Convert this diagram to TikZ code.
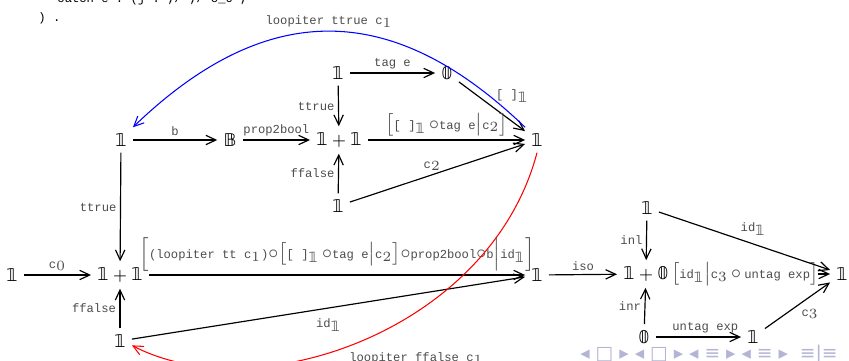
\documentclass[tikz,border=0pt]{standalone}
\usepackage{amsmath,amssymb}
\usepackage{fontspec}
\setmonofont{Liberation Mono}
\newfontfamily\navfont{DejaVu Sans}
\newfontfamily\bbfont{DejaVu Sans}
\usetikzlibrary{arrows.meta}

\newcommand{\one}{\text{\bbfont 𝟙}}
\newcommand{\zero}{\text{\bbfont 𝟘}}
\newcommand{\bool}{\text{\bbfont 𝔹}}
\newcommand{\code}[1]{{\fontsize{5.2}{6}\selectfont\ttfamily #1}}
\definecolor{navcol}{RGB}{180,180,212}

\begin{document}
\begin{tikzpicture}[
  x=0.015cm, y=-0.015cm,
  >={Straight Barb[length=1.5mm,width=1.4mm]},
  %% Styles
  obj/.style   = {font=\fontsize{7.5}{9}\selectfont, inner sep=2.5pt},
  lbl/.style   = {font=\fontsize{8}{9}\selectfont, text=black!70, inner sep=1.5pt},
  arr/.style   = {->, line width=0.5pt},
  loopT/.style = {->, line width=0.45pt, blue},
  loopF/.style = {->, line width=0.45pt, red},
]
\useasboundingbox (0,0) rectangle (849,361);
\clip (0,0) rectangle (849,361);

%% ── Slide text ─────────────────────────────────────────────────
\node[anchor=west, inner sep=0pt] (codeA) at (57,-1) {\code{catch e : (j . ;/ ;/ c\_0 ,}};
\node[anchor=west, inner sep=0pt] (codeB) at (38,18) {\code{) .}};

%% ── Row 0: top ─────────────────────────────────────────────────
\node[obj] (t1) at (338,73) {$\one$};
\node[obj] (t0) at (447,73) {$\zero$};

%% ── Row 1: middle ──────────────────────────────────────────────
\node[obj] (a1) at (121,140) {$\one$};
\node[obj] (aB) at (230,140) {$\bool$};
\node[obj] (a2) at (339,140) {$\one+\one$};
\node[obj] (aE) at (537,140) {$\one$};
\node[obj] (f1) at (338,206) {$\one$};

%% ── Row 2: bottom ──────────────────────────────────────────────
\node[obj] (l1) at (12,275) {$\one$};
\node[obj] (b2) at (120,275) {$\one+\one$};
\node[obj] (bE) at (537,275) {$\one$};
\node[obj] (b1) at (120,341) {$\one$};

%% ── Right part ─────────────────────────────────────────────────
\node[obj] (r1) at (647,208) {$\one$};
\node[obj] (r2) at (646,274) {$\one+\zero$};
\node[obj] (rE) at (842,274) {$\one$};
\node[obj] (r0) at (644,337) {$\zero$};
\node[obj] (r3) at (753,337) {$\one$};

%% ── Arrows: top square ─────────────────────────────────────────
\draw[arr] (t1) -- node[lbl, above] {\code{tag e}} (t0);
\draw[arr] (t0) -- node[lbl, above right] {\code{[ ]}$_{\one}$} (aE);
\draw[arr] (t1) -- node[lbl, left] {\code{ttrue}} (a2);
\draw[arr] (f1) -- node[lbl, left] {\code{ffalse}} (a2);
\draw[arr] (a1) -- node[lbl, above] {\code{b}} (aB);
\draw[arr] (aB) -- node[lbl, above] {\code{prop2bool}} (a2);
\draw[arr] (a2) -- node[lbl, above]
  {$\big[$\code{[ ]}$_{\one}\,\circ$\code{tag e}$\big|$\code{c}$_2\big]$} (aE);
\draw[arr] (f1) -- node[lbl, above, pos=0.47] {\code{c}$_2$} (aE);

%% ── Arrows: bottom square ──────────────────────────────────────
\draw[arr] (a1) -- node[lbl, left] {\code{ttrue}} (b2);
\draw[arr] (l1) -- node[lbl, above] {\code{c}$_0$} (b2);
\draw[arr] (b1) -- node[lbl, left] {\code{ffalse}} (b2);
\draw[arr] (b2) -- node[lbl, above]
  {$\Big[$\code{(loopiter tt c}$_1$\code{)}$\circ\big[$\code{[ ]}$_{\one}\,\circ$\code{tag e}$\big|$\code{c}$_2\big]\circ$\code{prop2bool}$\circ$\code{b}$\Big|$\code{id}$_{\one}\Big]$} (bE);
\draw[arr] (b1) -- node[lbl, below=3pt] {\code{id}$_{\one}$} (bE);

%% ── Arrows: loops ──────────────────────────────────────────────
\draw[loopT] (aE.north west) .. controls +(-133,-128) and +(133,-128) .. (a1.north east)
  node[lbl, pos=0.5, above] {\code{loopiter ttrue c}$_1$};
\draw[loopF] (aE.south) .. controls +(-47,178) and +(124,65) .. (b1.-20)
  node[lbl, pos=0.5, anchor=north west, xshift=-0.27cm, yshift=-0.13cm] {\code{loopiter ffalse c}$_1$};

%% ── Arrows: right part ─────────────────────────────────────────
\draw[arr] (bE) -- node[lbl, above] {\code{iso}} (r2);
\draw[arr] (r1) -- node[lbl, left] {\code{inl}} (r2);
\draw[arr] (r0) -- node[lbl, left] {\code{inr}} (r2);
\draw[arr] (r2) -- node[lbl, fill=white, inner sep=0pt, pos=0.45]
  {$\big[$\code{id}$_{\one}\big|$\code{c}$_3\,\circ$\,\code{untag exp}$\big]$} (rE);
\draw[arr] (r1) -- node[lbl, above=2pt, pos=0.55] {\code{id}$_{\one}$} (rE);
\draw[arr] (r0) -- node[lbl, above, pos=0.58] {\code{untag exp}} (r3);
\draw[arr] (r3) -- node[lbl, below right] {\code{c}$_3$} (rE);

%% ── Navigation symbols ─────────────────────────────────────────
\node[font=\navfont\fontsize{8}{8}\selectfont, text=navcol, inner sep=0pt] (nav) at (709,355)
  {◂ □ ▸ ◂ □ ▸ ◂ ≡ ▸ ◂ ≡ ▸ \ ≡|≡};

\end{tikzpicture}
\end{document}
